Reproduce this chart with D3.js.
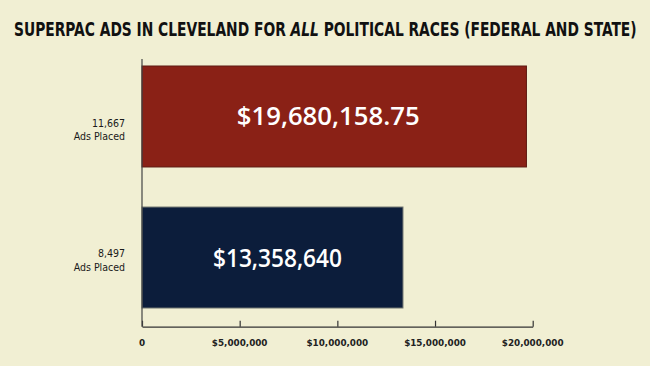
<!DOCTYPE html>
<html>
<head>
<meta charset="utf-8">
<script src="https://cdn.jsdelivr.net/npm/d3@7"></script>
<style>
html,body{margin:0;padding:0;background:#f1efd3;}
svg{display:block;}
</style>
</head>
<body>
<svg id="chart" width="650" height="366"></svg>
<script>
const titleParts = ["SUPERPAC ADS IN CLEVELAND FOR ", "ALL", " POLITICAL RACES (FEDERAL AND STATE)"];
const categories = ["11,667", "8,497"];
const subLabels = ["Ads Placed", "Ads Placed"];
const values = [19680158.75, 13358640];
const valueLabels = ["$19,680,158.75", "$13,358,640"];
const barColors = ["#8a2116", "#0c1d3b"];
const tickValues = [0, 5000000, 10000000, 15000000, 20000000];
const tickLabels = ["0", "$5,000,000", "$10,000,000", "$15,000,000", "$20,000,000"];

const svg = d3.select("#chart");
svg.append("rect").attr("width",650).attr("height",366).attr("fill","#f1efd3");

// Title with italic ALL, condensed horizontally to fit
const tg = svg.append("g");
const t = tg.append("text")
  .attr("x", 0).attr("y", 0)
  .attr("font-family", "'DejaVu Sans Condensed','DejaVu Sans',sans-serif")
  .attr("font-weight", "bold").attr("font-size", 19)
  .attr("fill", "#111");
titleParts.forEach((p,i) => {
  t.append("tspan").attr("font-style", i === 1 ? "italic" : "normal").text(p);
});
const tw = t.node().getComputedTextLength();
tg.attr("transform", `translate(14,36) scale(${623/tw},1)`);

const x = d3.scaleLinear().domain([0, 20000000]).range([142, 532.7]);
const y = d3.scaleBand().domain(categories).range([66, 308]).paddingInner(0.284).paddingOuter(0);

// bars
svg.selectAll("rect.bar").data(values).enter().append("rect")
  .attr("class","bar")
  .attr("x", x(0))
  .attr("y", (d,i) => y(categories[i]))
  .attr("width", d => x(d) - x(0))
  .attr("height", y.bandwidth())
  .attr("fill", (d,i) => barColors[i])
  .attr("stroke", (d,i) => i === 0 ? "#5e1a12" : "#6f7470")
  .attr("stroke-width", 1);

// value labels
const labelWidths = [183, 129];
const labelCenters = [-6, 5];
svg.selectAll("text.val").data(values).enter().append("text")
  .attr("class","val")
  .attr("x", (d,i) => (x(0) + x(d)) / 2 + labelCenters[i] - labelWidths[i]/2)
  .attr("y", (d,i) => y(categories[i]) + y.bandwidth()/2 + 9)
  .attr("font-family","'Open Sans',sans-serif")
  .attr("font-weight", 600)
  .attr("font-size", 24.5)
  .attr("textLength", (d,i) => labelWidths[i])
  .attr("lengthAdjust", "spacingAndGlyphs")
  .attr("fill","#ffffff")
  .text((d,i) => valueLabels[i]);

// category labels
const catOff = [[10.5, 24], [-0.5, 13.8]];
categories.forEach((c,i) => {
  const cy = y(c) + y.bandwidth()/2;
  const g = svg.append("text")
    .attr("text-anchor","end")
    .attr("font-family","'DejaVu Sans Condensed','DejaVu Sans',sans-serif")
    .attr("font-size", 10.5)
    .attr("fill","#1a1a1a");
  g.append("tspan").attr("x",125).attr("y", cy + catOff[i][0]).text(c);
  g.append("tspan").attr("x",125).attr("y", cy + catOff[i][1]).text(subLabels[i]);
});

// axes
const axisY = 326.7;
const axisG = svg.append("g").attr("transform", `translate(0,${axisY})`)
  .call(d3.axisTop(x).tickValues(tickValues).tickSize(6).tickSizeOuter(0).tickFormat(""));
axisG.select(".domain").attr("stroke","#333").attr("stroke-width",1.2);
axisG.selectAll(".tick line").attr("stroke","#333").attr("stroke-width",1.2);

svg.selectAll("text.tick").data(tickValues).enter().append("text")
  .attr("class","tick")
  .attr("x", d => x(d))
  .attr("y", 345.5)
  .attr("text-anchor","middle")
  .attr("font-family","'DejaVu Sans',sans-serif")
  .attr("font-weight","bold")
  .attr("font-size", 8.8)
  .attr("fill","#222")
  .text((d,i) => tickLabels[i]);

// vertical axis line
svg.append("line")
  .attr("x1", x(0)).attr("x2", x(0))
  .attr("y1", 59).attr("y2", axisY)
  .attr("stroke","#444").attr("stroke-width",1.2);
</script>
</body>
</html>
